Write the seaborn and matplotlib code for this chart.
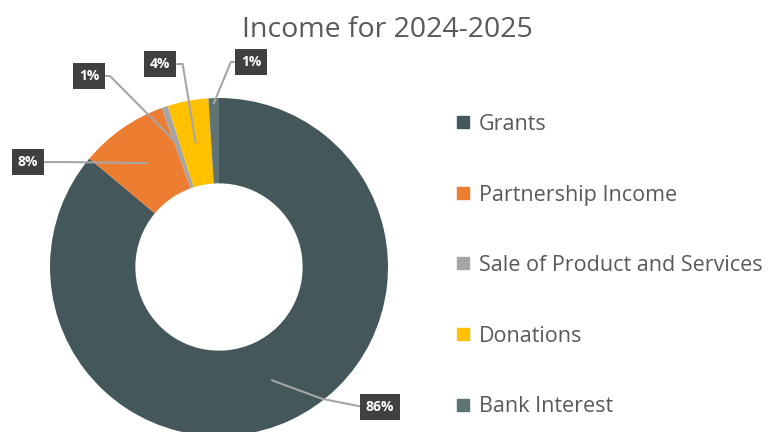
import matplotlib
matplotlib.use("Agg")
import matplotlib.pyplot as plt
from matplotlib.lines import Line2D
import numpy as np
import seaborn as sns

categories = ["Grants", "Partnership Income", "Sale of Product and Services", "Donations", "Bank Interest"]
values = [86.0, 8.4, 0.6, 3.9, 1.0]
colors = ["#44575A", "#ED7D31", "#A5A5A5", "#FFC000", "#5E7472"]

# label box centres (data units of the pie axes) and elbow points of leader lines
label_pos = [(0.953, -0.828), (-1.13, 0.621), (-0.769, 1.130), (-0.349, 1.201), (0.189, 1.213)]
elbow_pos = [(0.61, -0.78), (-0.90, 0.621), (-0.645, 1.130), (-0.215, 1.201), (0.07, 1.213)]
anchor_r = [0.74, 0.75, 0.77, 0.75, 0.97]

sns.set_theme(style="white")
plt.rcParams["font.family"] = ["Open Sans", "DejaVu Sans"]

W, H = 779, 432
fig = plt.figure(figsize=(W / 100, H / 100), dpi=100)
cx, cy, R = 219, 267, 169
ax = fig.add_axes([(cx - R) / W, (H - cy - R) / H, 2 * R / W, 2 * R / H])

wedges, _ = ax.pie(values, colors=colors, startangle=90, counterclock=False,
                   radius=1.0, wedgeprops=dict(width=0.505, edgecolor="none", linewidth=0))
ax.set_xlim(-1, 1)
ax.set_ylim(-1, 1)
ax.set_aspect("equal")
ax.axis("off")
for w in wedges:
    w.set_clip_on(False)

total = sum(values)
for w, v, (bx, by), (ex, ey), r in zip(wedges, values, label_pos, elbow_pos, anchor_r):
    ang = np.deg2rad((w.theta1 + w.theta2) / 2)
    px, py = r * np.cos(ang), r * np.sin(ang)
    side = -1 if bx < ex else 1
    edge_x = bx - side * 0.10
    ax.plot([px, ex, edge_x], [py, ey, by], color="#A6A6A6", lw=1.5,
            solid_capstyle="round", clip_on=False, zorder=3)
    ax.text(bx, by, f"{v / total * 100:.0f}%", ha="center", va="center",
            color="white", fontsize=10, fontweight="bold", zorder=4, clip_on=False,
            bbox=dict(boxstyle="square,pad=0.42", fc="#404040", ec="none"))

fig.text(0.497, 1 - 30 / H, "Income for 2024-2025", ha="center", va="center",
         fontsize=20.5, color="#595959")

handles = [Line2D([0], [0], marker="s", linestyle="none", markersize=8.5,
                  markerfacecolor=c, markeredgecolor=c) for c in colors]
fig.legend(handles, categories, loc="upper left", bbox_to_anchor=(455 / W, 1 - 114 / H),
           frameon=False, fontsize=15.5, labelcolor="#595959", labelspacing=2.3,
           handlelength=0.75, handletextpad=0.35, borderaxespad=0, borderpad=0)

fig.savefig("out.png", dpi=100)
